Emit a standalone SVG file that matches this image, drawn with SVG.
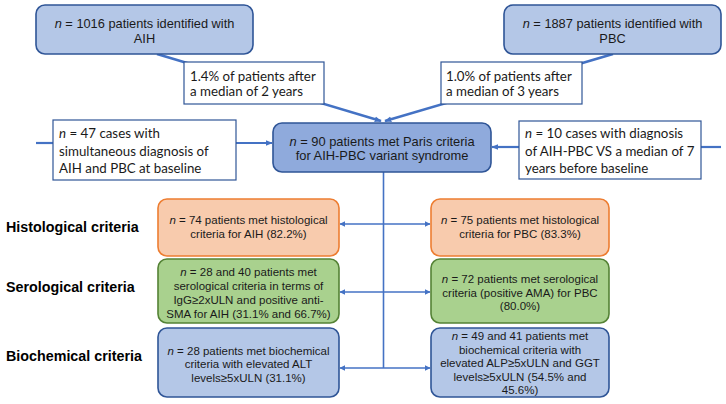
<svg xmlns="http://www.w3.org/2000/svg" width="726" height="404" viewBox="0 0 726 404">
<defs>
<marker id="ah" viewBox="0 0 10 10" refX="9" refY="5" markerWidth="6" markerHeight="6" markerUnits="userSpaceOnUse" orient="auto-start-reverse">
<path d="M0,0 L10,5 L0,10 z" fill="#4472c4"/>
</marker>
<marker id="ahs" viewBox="0 0 10 10" refX="9" refY="5" markerWidth="7" markerHeight="7" markerUnits="userSpaceOnUse" orient="auto-start-reverse">
<path d="M0,1 L10,5 L0,9 z" fill="#4472c4"/>
</marker>
</defs>
<style>
.blue{fill:#b4c7e7;stroke:#2f5597;stroke-width:1.6}
.mid{fill:#8faadc;stroke:#2f5597;stroke-width:1.6}
.orange{fill:#f8cbad;stroke:#ed7d31;stroke-width:1.6}
.green{fill:#a9d18e;stroke:#548235;stroke-width:1.6}
.lab{fill:#ffffff;stroke:#2f5597;stroke-width:1.2}
.t{font-family:"Liberation Sans",Arial,sans-serif;fill:#1a1a1a;text-anchor:middle}
.s{font-size:11.5px}
.m{font-size:12.8px}
.c{font-family:Lato,"Open Sans",sans-serif;fill:#1a1a1a;font-size:13.3px}
.h{font-family:"Liberation Sans",Arial,sans-serif;font-weight:bold;font-size:14.3px;fill:#000}
.ln{stroke:#4472c4;fill:none}
</style>

<g id="connectors">
<line class="ln" x1="157" y1="54" x2="381" y2="121" stroke-width="2.5" marker-end="url(#ahs)"/>
<line class="ln" x1="613" y1="54" x2="385" y2="121" stroke-width="2.5" marker-end="url(#ahs)"/>
<line class="ln" x1="36" y1="143" x2="53" y2="143" stroke-width="2.2"/>
<line class="ln" x1="236" y1="143" x2="272" y2="143" stroke-width="2.2" marker-end="url(#ahs)"/>
<line class="ln" x1="701" y1="147" x2="721" y2="147" stroke-width="2.2"/>
<line class="ln" x1="519" y1="147" x2="492" y2="147" stroke-width="2.2" marker-end="url(#ahs)"/>
<line class="ln" x1="383.5" y1="172" x2="383.5" y2="368" stroke-width="1.6"/>
<line class="ln" x1="340" y1="224" x2="430" y2="224" stroke-width="1.6" marker-start="url(#ah)" marker-end="url(#ah)"/>
<line class="ln" x1="340" y1="292" x2="430" y2="292" stroke-width="1.6" marker-start="url(#ah)" marker-end="url(#ah)"/>
<line class="ln" x1="340" y1="368" x2="430" y2="368" stroke-width="1.6" marker-start="url(#ah)" marker-end="url(#ah)"/>
</g>

<g id="aih">
<rect class="blue" x="36" y="5" width="217" height="49" rx="9"/>
<text class="t m" x="144.5" y="28"><tspan font-style="italic">n</tspan> = 1016 patients identified with</text>
<text class="t m" x="144.5" y="42.5">AIH</text>
</g>

<g id="pbc">
<rect class="blue" x="504" y="5" width="217" height="49" rx="9"/>
<text class="t m" x="612.5" y="28"><tspan font-style="italic">n</tspan> = 1887 patients identified with</text>
<text class="t m" x="612.5" y="42.5">PBC</text>
</g>

<g id="label-aih">
<rect class="lab" x="184" y="62" width="140" height="42"/>
<text class="c" x="190" y="80.5">1.4% of patients after</text>
<text class="c" x="190" y="96">a median of 2 years</text>
</g>

<g id="label-pbc">
<rect class="lab" x="441" y="62" width="141" height="42"/>
<text class="c" x="446" y="80.5">1.0% of patients after</text>
<text class="c" x="446" y="96">a median of 3 years</text>
</g>

<g id="simultaneous">
<rect class="lab" x="53" y="120" width="183" height="60"/>
<text class="c" x="59" y="138"><tspan font-style="italic">n</tspan> = 47 cases with</text>
<text class="c" x="59" y="155.5">simultaneous diagnosis of</text>
<text class="c" x="59" y="173">AIH and PBC at baseline</text>
</g>

<g id="before">
<rect class="lab" x="519" y="121" width="182" height="58"/>
<text class="c" x="525" y="138"><tspan font-style="italic">n</tspan> = 10 cases with diagnosis</text>
<text class="c" x="525" y="155.5">of AIH-PBC VS a median of 7</text>
<text class="c" x="525" y="173">years before baseline</text>
</g>

<g id="paris">
<rect class="mid" x="273" y="123" width="218" height="49" rx="9"/>
<text class="t" font-size="12.9px" x="382" y="146"><tspan font-style="italic">n</tspan> = 90 patients met Paris criteria</text>
<text class="t" font-size="12.9px" x="382" y="160">for AIH-PBC variant syndrome</text>
</g>

<g id="row-labels">
<text class="h" x="6" y="232">Histological criteria</text>
<text class="h" x="6" y="292">Serological criteria</text>
<text class="h" x="6" y="360.5">Biochemical criteria</text>
</g>

<g id="hist-aih">
<rect class="orange" x="158" y="199" width="181" height="57" rx="9"/>
<text class="t s" x="248.5" y="224"><tspan font-style="italic">n</tspan> = 74 patients met histological</text>
<text class="t s" x="248.5" y="238">criteria for AIH (82.2%)</text>
</g>

<g id="hist-pbc">
<rect class="orange" x="431" y="199" width="178" height="57" rx="9"/>
<text class="t s" x="520" y="224"><tspan font-style="italic">n</tspan> = 75 patients met histological</text>
<text class="t s" x="520" y="238">criteria for PBC (83.3%)</text>
</g>

<g id="sero-aih">
<rect class="green" x="158" y="259" width="181" height="64" rx="9"/>
<text class="t s" x="248.5" y="276"><tspan font-style="italic">n</tspan> = 28 and 40 patients met</text>
<text class="t s" x="248.5" y="290">serological criteria in terms of</text>
<text class="t s" x="248.5" y="304">IgG≥2xULN and positive anti-</text>
<text class="t s" x="248.5" y="318">SMA for AIH (31.1% and 66.7%)</text>
</g>

<g id="sero-pbc">
<rect class="green" x="431" y="259" width="178" height="64" rx="9"/>
<text class="t s" x="520" y="283"><tspan font-style="italic">n</tspan> = 72 patients met serological</text>
<text class="t s" x="520" y="296.5">criteria (positive AMA) for PBC</text>
<text class="t s" x="520" y="310">(80.0%)</text>
</g>

<g id="bio-aih">
<rect class="blue" x="158" y="328" width="181" height="69" rx="9"/>
<text class="t s" x="248.5" y="354.5"><tspan font-style="italic">n</tspan> = 28 patients met biochemical</text>
<text class="t s" x="248.5" y="368.3">criteria with elevated ALT</text>
<text class="t s" x="248.5" y="382">levels≥5xULN (31.1%)</text>
</g>

<g id="bio-pbc">
<rect class="blue" x="431" y="328" width="178" height="69" rx="9"/>
<text class="t s" x="520" y="340"><tspan font-style="italic">n</tspan> = 49 and 41 patients met</text>
<text class="t s" x="520" y="353.6">biochemical criteria with</text>
<text class="t s" x="520" y="367.2">elevated ALP≥5xULN and GGT</text>
<text class="t s" x="520" y="380.8">levels≥5xULN (54.5% and</text>
<text class="t s" x="520" y="394.4">45.6%)</text>
</g>
</svg>
